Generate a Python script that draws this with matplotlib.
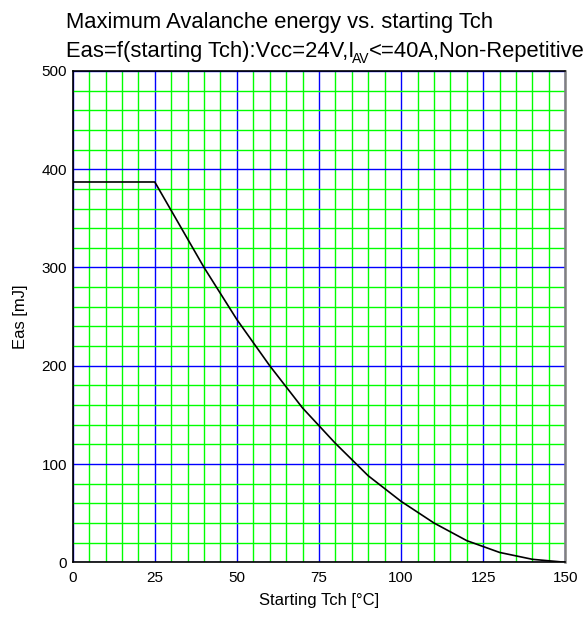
import matplotlib
matplotlib.use("Agg")
import matplotlib.pyplot as plt
from matplotlib.ticker import MultipleLocator

plt.rcParams["font.family"] = ["Liberation Sans", "DejaVu Sans"]

# Eas vs starting Tch
tch = [0, 25, 30, 40, 50, 60, 70, 80, 90, 100, 110, 120, 125, 130, 140, 150]
eas = [387, 387, 358, 300, 247, 200, 157, 121, 88, 62, 40, 22, 16, 10, 3, 0]

x_ticks = [0, 25, 50, 75, 100, 125, 150]
y_ticks = [0, 100, 200, 300, 400, 500]

fig = plt.figure(figsize=(5.86, 6.17), dpi=100)
ax = fig.add_axes([0.124, 0.0887, 0.8407, 0.7963])

ax.set_xlim(0, 150)
ax.set_ylim(0, 500)
ax.set_xticks(x_ticks)
ax.set_yticks(y_ticks)
ax.xaxis.set_minor_locator(MultipleLocator(5))
ax.yaxis.set_minor_locator(MultipleLocator(20))

ax.grid(True, which="minor", color="#00ff00", linewidth=1.0, zorder=1)
ax.grid(True, which="major", color="#0000ff", linewidth=1.0, zorder=2)
ax.set_axisbelow(True)

ax.plot(tch, eas, color="black", linewidth=1.2, zorder=5)

ax.tick_params(which="both", length=0, labelsize=11, colors="black")
ax.tick_params(axis="x", pad=6)
ax.tick_params(axis="y", pad=4)

for side in ["left", "bottom", "top"]:
    ax.spines[side].set_color("black")
    ax.spines[side].set_linewidth(1.2)
ax.spines["right"].set_color("#808080")
ax.spines["right"].set_linewidth(1.8)

ax.set_xlabel("Starting Tch [°C]", fontsize=12, labelpad=6)
ax.set_ylabel("Eas [mJ]", fontsize=12, labelpad=10)

# title: two lines, second one has I with a subscript AV
x0 = 0.112
fig.text(x0, 0.955, "Maximum Avalanche energy vs. starting Tch",
         fontsize=15.8, ha="left", va="baseline")

renderer = fig.canvas.get_renderer()
inv = fig.transFigure.inverted()
base = 0.907
part1 = fig.text(x0, base, "Eas=f(starting Tch):Vcc=24V,I",
                 fontsize=15.8, ha="left", va="baseline")
x1 = inv.transform(part1.get_window_extent(renderer).get_points())[1][0]
sub = fig.text(x1 - 0.004, base - 0.009, "AV",
               fontsize=10, ha="left", va="baseline")
x2 = inv.transform(sub.get_window_extent(renderer).get_points())[1][0]
fig.text(x2, base, "<=40A,Non-Repetitive",
         fontsize=15.8, ha="left", va="baseline")

fig.savefig("out.png", dpi=100)
